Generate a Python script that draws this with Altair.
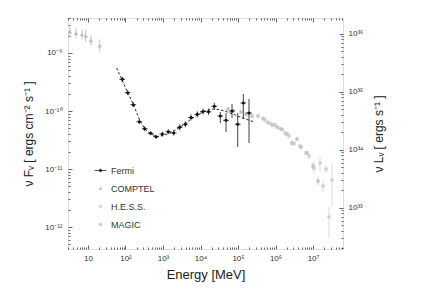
import altair as alt
import pandas as pd

# ---------------- data ----------------
fermi_E = [82.2, 114.5, 161, 233, 325, 470, 650, 958, 1384, 1928, 2786, 3934, 5583,
           8222, 11660, 16340, 23330, 33730, 47860, 69180, 98170, 138400, 196400]
fermi_Elo = [69, 96, 135, 196, 273, 395, 546, 805, 1163, 1620, 2340, 3305, 4690,
             6906, 9794, 13726, 19600, 28330, 40200, 58110, 82460, 116300, 165000]
fermi_Ehi = [98, 136, 192, 278, 387, 559, 774, 1140, 1647, 2294, 3315, 4681, 6644,
             9784, 13875, 19445, 27760, 40140, 56950, 82320, 116800, 164700, 233700]
fermi_F = [3.52e-10, 2.07e-10, 1.285e-10, 6.55e-11, 4.95e-11, 4.13e-11, 3.60e-11, 4.01e-11,
           4.40e-11, 4.18e-11, 5.24e-11, 5.90e-11, 7.73e-11, 8.77e-11, 9.80e-11, 9.69e-11,
           1.206e-10, 8.20e-11, 6.91e-11, 1.00e-10, 5.90e-11, 1.374e-10, 9.24e-11]
fermi_Flo = [3.19e-10, 1.875e-10, 1.164e-10, 5.93e-11, 4.48e-11, 3.81e-11, 3.32e-11, 3.63e-11,
             3.99e-11, 3.79e-11, 4.65e-11, 5.24e-11, 6.86e-11, 7.78e-11, 8.70e-11, 8.60e-11,
             1.050e-10, 6.21e-11, 4.35e-11, 7.57e-11, 2.39e-11, 7.28e-11, 2.81e-11]
fermi_Fhi = [3.89e-10, 2.285e-10, 1.419e-10, 7.23e-11, 5.46e-11, 4.47e-11, 3.90e-11, 4.43e-11,
             4.86e-11, 4.61e-11, 5.91e-11, 6.65e-11, 8.71e-11, 9.88e-11, 1.104e-10, 1.092e-10,
             1.386e-10, 9.62e-11, 9.24e-11, 1.321e-10, 9.24e-11, 1.963e-10, 1.610e-10]

model_E = [58.2, 80.7, 116.6, 168.6, 243.6, 331, 478.6, 691.8, 1000, 1538, 2362, 3631, 5583,
           8579, 13180, 20260, 31150, 47860, 73560, 113000, 173800, 251200]
model_F = [5.51e-10, 3.42e-10, 2.04e-10, 1.219e-10, 6.73e-11, 4.90e-11, 4.01e-11, 3.63e-11,
           3.78e-11, 4.18e-11, 4.90e-11, 5.85e-11, 7.28e-11, 8.71e-11, 1.0e-10, 1.081e-10,
           1.061e-10, 9.80e-11, 8.87e-11, 7.88e-11, 7.13e-11, 6.59e-11]

comptel_E = [3.31, 4.79, 6.92, 8.68, 12.0, 20.5]
comptel_F = [2.33e-9, 2.19e-9, 2.10e-9, 1.97e-9, 1.64e-9, 1.34e-9]
comptel_Flo = [1.91e-9, 1.80e-9, 1.72e-9, 1.55e-9, 1.34e-9, 1.06e-9]
comptel_Fhi = [2.84e-9, 2.67e-9, 2.56e-9, 2.50e-9, 2.00e-9, 1.70e-9]

magic_E = [54100, 73600, 120200, 163300, 236000, 341400, 464000, 631000, 832000, 1.096e6,
           1.49e6, 2.03e6, 2.75e6, 3.74e6, 4.79e6, 6.92e6, 1.0e7, 1.36e7]
magic_F = [1.081e-10, 1.0e-10, 9.62e-11, 8.87e-11, 8.20e-11, 8.20e-11, 7.43e-11, 6.34e-11,
           5.74e-11, 5.30e-11, 4.80e-11, 4.01e-11, 2.81e-11, 3.29e-11, 2.39e-11, 1.89e-11,
           1.127e-11, 6.21e-12]
magic_Flo = [9.98e-11, 9.23e-11, 8.88e-11, 8.19e-11, 7.57e-11, 7.57e-11, 6.86e-11, 5.85e-11,
             5.30e-11, 4.89e-11, 4.43e-11, 3.70e-11, 2.49e-11, 3.04e-11, 2.21e-11, 1.75e-11,
             9.63e-12, 5.30e-12]
magic_Fhi = [1.171e-10, 1.083e-10, 1.042e-10, 9.61e-11, 8.88e-11, 8.88e-11, 8.05e-11, 6.87e-11,
             6.22e-11, 5.74e-11, 5.20e-11, 4.34e-11, 3.17e-11, 3.56e-11, 2.59e-11, 2.05e-11,
             1.32e-11, 7.36e-12]

hess_E = [525000, 759000, 970000, 1.318e6, 1.79e6, 2.29e6, 3.11e6, 4.5e6, 6.5e6, 7.82e6,
          1.064e7, 1.537e7, 1.848e7, 2.22e7, 2.67e7, 3.21e7]
hess_F = [7.0e-11, 5.97e-11, 5.74e-11, 4.99e-11, 4.18e-11, 3.71e-11, 2.75e-11, 2.49e-11,
          1.89e-11, 1.675e-11, 1.04e-11, 1.268e-11, 5.09e-12, 1.0e-11, 1.486e-12, 6.46e-12]
hess_Flo = [6.34e-11, 5.41e-11, 5.20e-11, 4.52e-11, 3.79e-11, 3.36e-11, 2.49e-11, 2.26e-11,
            1.71e-11, 1.52e-11, 8.5e-12, 8.97e-12, 4.06e-12, 8.53e-12, 6.38e-13, 2.24e-12]
hess_Fhi = [7.73e-11, 6.59e-11, 6.34e-11, 5.51e-11, 4.61e-11, 4.10e-11, 3.04e-11, 2.75e-11,
            2.09e-11, 1.85e-11, 1.27e-11, 1.63e-11, 6.46e-12, 1.172e-11, 2.24e-12, 1.268e-11]

series_names = ["Fermi", "COMPTEL", "H.E.S.S.", "MAGIC"]

x_major = [10, 100, 1e3, 1e4, 1e5, 1e6, 1e7]
x_labels = ["10", "10²", "10³", "10⁴", "10⁵", "10⁶", "10⁷"]
yF_major = [1e-12, 1e-11, 1e-10, 1e-9]
yF_labels = ["10⁻¹²", "10⁻¹¹", "10⁻¹⁰", "10⁻⁹"]
yL_major = [1e33, 1e34, 1e35, 1e36]
yL_labels = ["10³³", "10³⁴", "10³⁵", "10³⁶"]

x_domain = [2.93, 6.3e7]
yF_domain = [4.18e-13, 4.01e-9]
yL_domain = [1.95e32, 1.86e36]

W, H = 275, 231

# ---------------- helpers ----------------
FONT = "Liberation Sans"


def minor_ticks(dom, e0, e1):
    out = []
    for e in range(e0, e1 + 1):
        for m in range(1, 10):
            v = float(f"{m}e{e}")
            if dom[0] <= v <= dom[1]:
                out.append(v)
    return out


def js(lst):
    return "[" + ",".join(repr(v) if not isinstance(v, str) else "'" + v + "'" for v in lst) + "]"


def label_axis(major, labs, **kw):
    return alt.Axis(
        values=major,
        labelExpr=f"{js(labs)}[indexof({js(major)}, datum.value)]",
        ticks=False, domain=False, grid=False,
        labelFont=FONT, labelFontSize=8, labelColor="#333",
        titleFont=FONT, titleFontWeight="normal", titleColor="#222",
        **kw,
    )


def tick_axis(major, ticks, orient, offset):
    test = f"indexof({js(major)}, datum.value) >= 0"
    return alt.Axis(
        values=ticks, orient=orient, offset=offset, labels=False, title=None,
        tickSize={"condition": {"test": test, "value": 4}, "value": 2},
        tickColor="#222", tickWidth=0.7, domain=False, grid=False,
    )


x_ticks = minor_ticks(x_domain, 0, 7)
yF_ticks = minor_ticks(yF_domain, -13, -9)
yL_ticks = minor_ticks(yL_domain, 32, 36)

xs = alt.Scale(type="log", domain=x_domain, nice=False)
ys = alt.Scale(type="log", domain=yF_domain, nice=False)
yls = alt.Scale(type="log", domain=yL_domain, nice=False)

fermi = pd.DataFrame(dict(E=fermi_E, Elo=fermi_Elo, Ehi=fermi_Ehi, F=fermi_F, Flo=fermi_Flo, Fhi=fermi_Fhi))
model = pd.DataFrame(dict(E=model_E, F=model_F))
comptel = pd.DataFrame(dict(E=comptel_E, F=comptel_F, Flo=comptel_Flo, Fhi=comptel_Fhi))
magic = pd.DataFrame(dict(E=magic_E, F=magic_F, Flo=magic_Flo, Fhi=magic_Fhi))
hess = pd.DataFrame(dict(E=hess_E, F=hess_F, Flo=hess_Flo, Fhi=hess_Fhi))
legend_df = pd.DataFrame(dict(series=series_names, E=[fermi_E[0], comptel_E[0], hess_E[0], magic_E[0]],
                              F=[fermi_F[0], comptel_F[0], hess_F[0], magic_F[0]]))

GRAY_C = "#b8b8b8"
GRAY_H = "#d0d0d0"
GRAY_M = "#c4c4c4"

# model line carries the labelled bottom x axis and left y axis
model_line = alt.Chart(model).mark_line(color="#111", strokeWidth=0.9, strokeDash=[2.5, 2]).encode(
    x=alt.X("E:Q", scale=xs, axis=label_axis(x_major, x_labels, orient="bottom",
                                                title="Energy [MeV]", titleFontSize=13,
                                                titlePadding=6, labelPadding=5)),
    y=alt.Y("F:Q", scale=ys, axis=label_axis(yF_major, yF_labels, orient="left",
                                                title="ν Fᵥ [ ergs cm⁻² s⁻¹ ]", titleFontSize=12,
                                                titlePadding=9, labelPadding=6)),
)


def ghost(xaxis, yaxis, yscale):
    return alt.Chart(model).mark_point(opacity=0).encode(
        x=alt.X("E:Q", scale=xs, axis=xaxis),
        y=alt.Y("F:Q", scale=yscale, axis=yaxis),
    )


# inward ticks on all four sides
ticks_top = ghost(tick_axis(x_major, x_ticks, "bottom", -H), None, ys)
ticks_bottom = ghost(tick_axis(x_major, x_ticks, "top", -H), None, ys)
ticks_left = ghost(None, tick_axis(yF_major, yF_ticks, "right", -W), ys)
ticks_right = ghost(None, tick_axis(yL_major, yL_ticks, "left", -W), yls)

# right axis labels: luminosity
right_axis = ghost(None, label_axis(yL_major, yL_labels, orient="right",
                                     title="ν Lᵥ [ ergs s⁻¹ ]", titleFontSize=12,
                                     titleAngle=270, titlePadding=22, labelPadding=5), yls)


def errbars(df, color, width=0.8):
    return alt.Chart(df).mark_rule(color=color, strokeWidth=width).encode(
        x=alt.X("E:Q", scale=xs, axis=None),
        y=alt.Y("Flo:Q", scale=ys, axis=None),
        y2="Fhi:Q",
    )


def points(df, color, shape, size):
    return alt.Chart(df).mark_point(filled=True, color=color, shape=shape, size=size, opacity=1).encode(
        x=alt.X("E:Q", scale=xs, axis=None),
        y=alt.Y("F:Q", scale=ys, axis=None),
    )


fermi_h = alt.Chart(fermi).mark_rule(color="#111", strokeWidth=0.8).encode(
    x=alt.X("Elo:Q", scale=xs, axis=None), x2="Ehi:Q",
    y=alt.Y("F:Q", scale=ys, axis=None),
)

comptel_err = errbars(comptel, GRAY_C)
magic_err = errbars(magic, GRAY_M)
hess_err = errbars(hess, GRAY_H)
fermi_err = errbars(fermi, "#111")

comptel_pts = points(comptel, GRAY_C, "triangle-up", 18)
magic_pts = points(magic, GRAY_M, "square", 11)
hess_pts = points(hess, GRAY_H, "square", 11)
fermi_pts = points(fermi, "#111", "circle", 9)

shape_paths = [
    "M-1.5,0H1.5M-0.3,0A0.3,0.3,0,1,1,0.3,0A0.3,0.3,0,1,1,-0.3,0Z",
    "M0,-0.4L0.4,0.3H-0.4Z",
    "M-0.3,-0.3H0.3V0.3H-0.3Z",
    "M-0.3,-0.3H0.3V0.3H-0.3Z",
]
colors = ["#111", "#c4c4c4", "#d4d4d4", "#cacaca"]

legend_layer = alt.Chart(legend_df).mark_point(filled=True, size=1, fillOpacity=0, strokeOpacity=0).encode(
    x=alt.X("E:Q", scale=xs, axis=None),
    y=alt.Y("F:Q", scale=ys, axis=None),
    shape=alt.Shape("series:N", scale=alt.Scale(domain=series_names, range=shape_paths),
                    legend=alt.Legend(orient="none", legendX=28, legendY=148, title=None,
                                      symbolSize=64, symbolStrokeWidth=0.7, labelFont=FONT,
                                      labelFontSize=9, labelColor="#333", labelOffset=6,
                                      rowPadding=8, padding=0, symbolOpacity=1)),
    color=alt.Color("series:N", scale=alt.Scale(domain=series_names, range=colors)),
    stroke=alt.Stroke("series:N", scale=alt.Scale(domain=series_names, range=colors)),
)

chart = alt.layer(
    model_line, ticks_top, ticks_bottom, ticks_left, ticks_right, right_axis,
    comptel_err, magic_err, hess_err,
    comptel_pts, hess_pts, magic_pts,
    fermi_err, fermi_h, fermi_pts,
    legend_layer,
).resolve_scale(y="independent").resolve_axis(x="independent", y="independent").properties(
    width=W, height=H,
    autosize=alt.AutoSizeParams(type="none"),
    padding={"left": 60, "top": 10, "right": 84, "bottom": 51},
).configure_view(stroke="#111", strokeWidth=1).configure(background="white")

chart.save("out.html", embed_options={"renderer": "svg", "actions": False})
